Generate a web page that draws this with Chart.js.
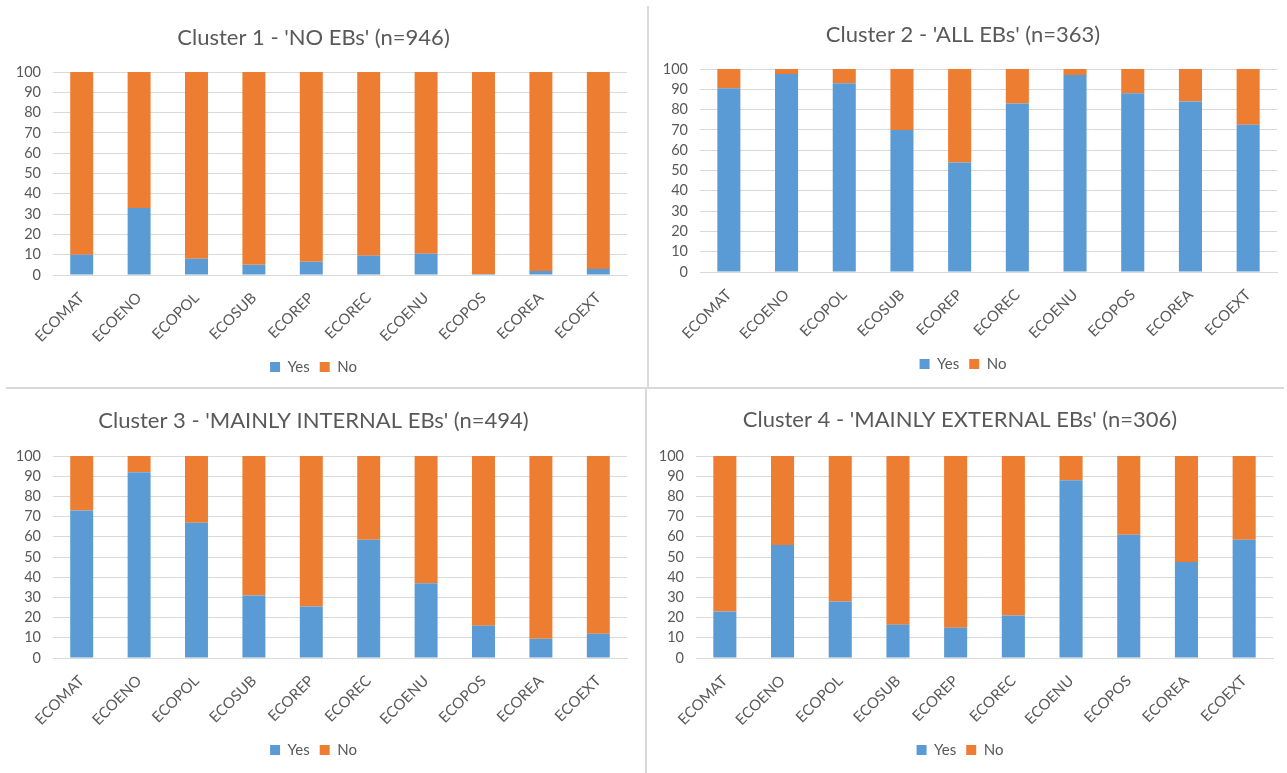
<!DOCTYPE html>
<html>
<head>
<meta charset="utf-8">
<script src="https://cdn.jsdelivr.net/npm/chart.js@4"></script>
<style>
  html, body { margin: 0; padding: 0; background: #fff; }
  #page { position: relative; width: 1287px; height: 773px; overflow: hidden; }
  .panel { position: absolute; }
  .rule { position: absolute; background: #d9d9d9; }
</style>
</head>
<body>
<div id="page">
  <div class="panel" style="left:0;top:0;width:645px;height:387px"><canvas id="c1"></canvas></div>
  <div class="panel" style="left:649px;top:0;width:638px;height:387px"><canvas id="c2"></canvas></div>
  <div class="panel" style="left:0;top:390px;width:645px;height:383px"><canvas id="c3"></canvas></div>
  <div class="panel" style="left:647px;top:390px;width:640px;height:383px"><canvas id="c4"></canvas></div>
  <div class="rule" style="left:647px;top:6px;width:2px;height:382px"></div>
  <div class="rule" style="left:6px;top:387px;width:1278px;height:2px"></div>
  <div class="rule" style="left:645px;top:389px;width:2px;height:384px"></div>
</div>
<script>
const categories = ["ECOMAT", "ECOENO", "ECOPOL", "ECOSUB", "ECOREP", "ECOREC", "ECOENU", "ECOPOS", "ECOREA", "ECOEXT"];
const yTicks = [0, 10, 20, 30, 40, 50, 60, 70, 80, 90, 100];

const yesCluster1 = [10, 33, 8, 5, 6.5, 9.5, 10.5, 0.5, 2, 3];
const yesCluster2 = [90.5, 97.5, 93, 70, 54, 83, 97, 88, 84, 72.5];
const yesCluster3 = [73, 92, 67, 31, 25.5, 58.5, 37, 16, 9.5, 12];
const yesCluster4 = [23, 56, 28, 16.5, 15, 21, 88, 61, 47.5, 58.5];

const noCluster1 = yesCluster1.map(v => 100 - v);
const noCluster2 = yesCluster2.map(v => 100 - v);
const noCluster3 = yesCluster3.map(v => 100 - v);
const noCluster4 = yesCluster4.map(v => 100 - v);

const BLUE = "#5b9bd5";
const ORANGE = "#ed7d31";
const GREY_TEXT = "#595959";
const GRID = "#d9d9d9";
const FONT = "Lato, 'Open Sans', sans-serif";
const TITLE_SIZE = 22;
const X_TICK_SIZE = 15;
const Y_TICK_SIZE = 14.5;
const LEGEND_SIZE = 15;

// g: yAxisW, rightPad, titleY, top, bottom, legendY (all in canvas px)
function makeChart(id, title, yes, no, g, h) {
  const legendH = LEGEND_SIZE + 20;
  const bottomPad = h - (g.legendY + legendH / 2);
  const xAxisH = (h - bottomPad - legendH) - g.bottom;
  const half = TITLE_SIZE * 1.2 / 2;
  return new Chart(document.getElementById(id), {
    type: "bar",
    data: {
      labels: categories,
      datasets: [
        { label: "Yes", data: yes, backgroundColor: BLUE, barPercentage: 0.4, categoryPercentage: 1 },
        { label: "No", data: no, backgroundColor: ORANGE, barPercentage: 0.4, categoryPercentage: 1 }
      ]
    },
    options: {
      responsive: true, maintainAspectRatio: false, animation: false,
      layout: { padding: { left: 0, right: g.rightPad, top: 0, bottom: bottomPad } },
      plugins: {
        title: {
          display: true, text: title, color: GREY_TEXT,
          font: { family: FONT, size: TITLE_SIZE, weight: "normal" },
          padding: { top: g.titleY - half, bottom: g.top - (g.titleY + half) }
        },
        legend: {
          position: "bottom",
          labels: { color: GREY_TEXT, font: { family: FONT, size: LEGEND_SIZE }, boxWidth: 10, boxHeight: 10, padding: 10 }
        },
        tooltip: { enabled: false }
      },
      scales: {
        x: {
          stacked: true,
          grid: { display: false },
          border: { color: GRID },
          ticks: { color: GREY_TEXT, font: { family: FONT, size: X_TICK_SIZE }, maxRotation: 45, minRotation: 45, padding: 6 },
          afterFit: s => { s.height = xAxisH; }
        },
        y: {
          stacked: true, min: 0, max: 100,
          grid: { color: GRID, drawTicks: false },
          border: { display: false },
          afterBuildTicks: s => { s.ticks = yTicks.map(v => ({ value: v })); },
          ticks: { color: GREY_TEXT, font: { family: FONT, size: Y_TICK_SIZE, lineHeight: 1 }, padding: 12, autoSkip: false },
          afterFit: s => { s.width = g.yAxisW; }
        }
      }
    }
  });
}

makeChart("c1", "Cluster 1 - 'NO EBs' (n=946)", yesCluster1, noCluster1,
  { yAxisW: 53, rightPad: 18, titleY: 38, top: 72, bottom: 275, legendY: 367 }, 387);
makeChart("c2", "Cluster 2 - 'ALL EBs' (n=363)", yesCluster2, noCluster2,
  { yAxisW: 51, rightPad: 10, titleY: 35, top: 69, bottom: 272, legendY: 364 }, 387);
makeChart("c3", "Cluster 3 - 'MAINLY INTERNAL EBs' (n=494)", yesCluster3, noCluster3,
  { yAxisW: 53, rightPad: 18, titleY: 31, top: 66, bottom: 268, legendY: 360 }, 383);
makeChart("c4", "Cluster 4 - 'MAINLY EXTERNAL EBs' (n=306)", yesCluster4, noCluster4,
  { yAxisW: 49, rightPad: 14, titleY: 30, top: 66, bottom: 268, legendY: 360 }, 383);
</script>
</body>
</html>
